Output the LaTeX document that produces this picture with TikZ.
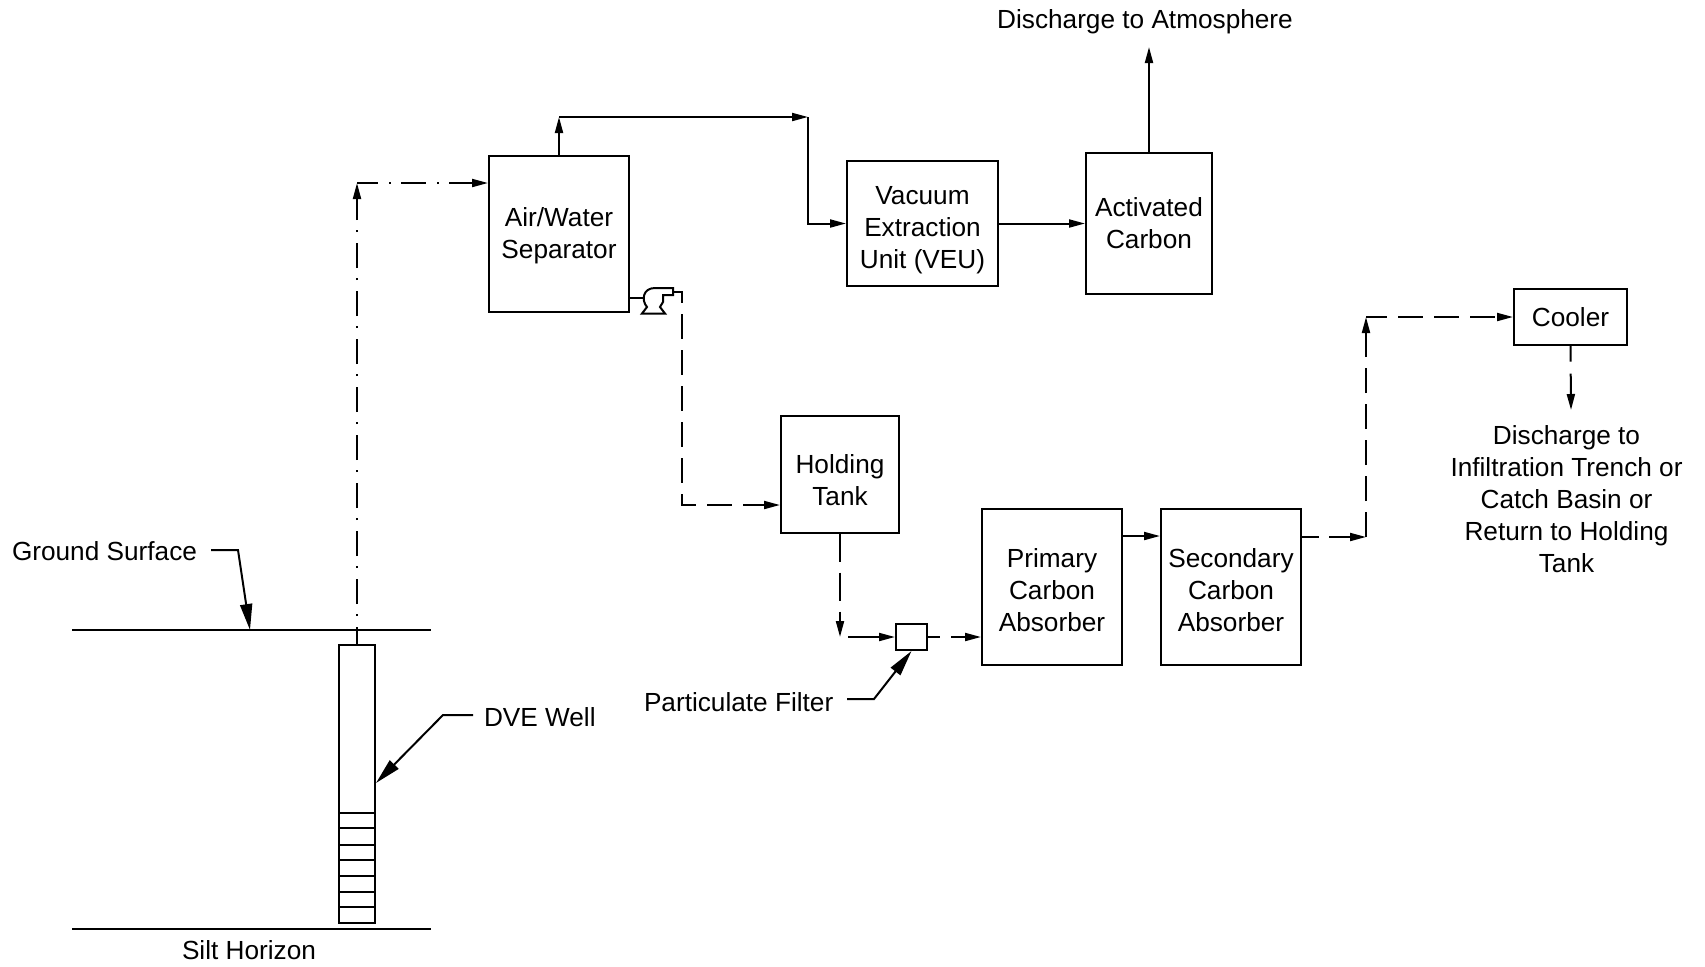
\documentclass[tikz,border=0pt]{standalone}
\usepackage{fontspec}
\setmainfont{Liberation Sans}
\usetikzlibrary{arrows.meta}

\begin{document}
\begin{tikzpicture}[x=0.5pt, y=-0.5pt, line width=1pt,
    >={Stealth[length=8pt, width=4pt, inset=0pt]},
    unit/.style={draw, inner sep=0pt, align=center, font=\fontsize{13.1}{16}\selectfont},
    label/.style={inner sep=0pt, align=center, font=\fontsize{13.1}{16}\selectfont},
    vapor/.style={dash pattern=on 12.5pt off 5.5pt on 1pt off 5pt},
    water/.style={dash pattern=on 12.5pt off 5.5pt},
    leader/.style={-{Stealth[length=13pt, width=6pt, inset=0pt]}}]
    \useasboundingbox (0, 0) rectangle (1705, 966);

    % Process units
    \node[unit, minimum width=70pt, minimum height=78pt, text height=27.6pt] (sep) at (559, 233.5) {Air/Water\\Separator};
    \node[unit, minimum width=75.5pt, minimum height=62.5pt, text height=48pt] (veu) at (922.5, 223.5) {Vacuum\\Extraction\\Unit (VEU)};
    \node[unit, minimum width=63pt, minimum height=70.5pt] (carbon) at (1149, 223.5) {Activated\\Carbon};
    \node[unit, minimum width=59pt, minimum height=58.5pt, text height=32pt] (tank) at (840, 474) {Holding\\Tank};
    \node[unit, minimum width=15.5pt, minimum height=13pt] (filter) at (911.5, 637) {};
    \node[unit, minimum width=70pt, minimum height=78pt, text height=44.7pt] (primary) at (1052, 586.5) {Primary\\Carbon\\Absorber};
    \node[unit, minimum width=70pt, minimum height=78pt, text height=44.7pt] (secondary) at (1231, 586.5) {Secondary\\Carbon\\Absorber};
    \node[unit, minimum width=56.5pt, minimum height=28pt, text height=10.5pt] (cooler) at (1570.5, 316.5) {Cooler};

    % Labels
    \node[label] (atm) at (1145, 22) {Discharge to Atmosphere};
    \node[label] (outfall) at (1566.5, 499) {Discharge to\\Infiltration Trench or\\Catch Basin or\\Return to Holding\\Tank};
    \node[label, anchor=west] (ground) at (11, 551) {Ground Surface};
    \node[label, anchor=west] (dve) at (483, 717) {DVE Well};
    \node[label, anchor=west] (partic) at (643, 702) {Particulate Filter};
    \node[label] (silt) at (249, 950) {Silt Horizon};

    % Ground and silt lines
    \draw (72, 630) -- (431, 630);
    \draw (72, 929) -- (431, 929);

    % Well
    \node[draw, minimum width=18pt, minimum height=139pt] (well) at (357, 784) {};
    \foreach \y in {813, 828, 845, 860, 876, 892, 907}
        \draw[line width=0.8pt] (339, \y) -- (375, \y);

    % Vapor from well
    \coordinate (wellTop) at (357, 183);
    \draw[vapor, dash phase=4pt, ->] (well.north) -- (wellTop);
    \draw[vapor, dash phase=2pt, ->] (wellTop) -- (wellTop -| sep.west);

    % Air line
    \coordinate (airA) at (559, 117);
    \coordinate (airB) at (808, 117);
    \draw[->] (sep.north) -- (airA);
    \draw[->] (airA) -- (airB);
    \draw[->] (airB) |- (veu.west);
    \draw[->] (veu.east) -- (carbon.west);
    \draw[->] (carbon.north) -- (1149, 47);

    % Pump
    \coordinate (pumpIn) at (643, 298);
    \coordinate (pumpOut) at (673, 292);
    \draw (sep.east |- pumpIn) -- (pumpIn);
    \draw (647, 307) .. controls (641, 300) and (643, 288) .. (655, 288)
        -- (673, 288) -- (673, 295) -- (663, 295) -- (663, 302) -- (660, 307)
        -- (665, 313.5) -- (642, 313.5) -- cycle;

    % Water line
    \coordinate (waterA) at (682, 292);
    \coordinate (waterB) at (682, 505);
    \draw[water, dash phase=2.5pt, ->] (pumpOut) -- (waterA) -- (waterB) -- (waterB -| tank.west);
    \coordinate (waterC) at (840, 637);
    \coordinate (waterD) at (848, 637);
    \draw[dash pattern=on 14pt off 5.5pt, ->] (tank.south) -- (waterC);
    \draw[->] (waterD) -- (filter.west);
    \draw[water, dash phase=6.5pt, ->] (filter.east) -- (filter.east -| primary.west);
    \draw[->] (primary.east |- 0, 536) -- (secondary.west |- 0, 536);

    % Treated water to cooler
    \coordinate (waterE) at (1366, 537);
    \coordinate (waterF) at (1366, 317);
    \draw[dash pattern=on 8.5pt off 5pt on 18pt off 0pt, ->] (secondary.east |- waterE) -- (waterE);
    \draw[water, ->] (waterE) -- (waterF);
    \draw[water, dash phase=2pt, ->] (waterF) -- (waterF -| cooler.west);
    \coordinate (coolerOut) at (1571, 410);
    \draw[dash pattern=on 8pt off 6pt on 18pt off 0pt, ->] (cooler.south) -- (coolerOut);

    % Leaders
    \coordinate (groundBend) at (238, 550);
    \coordinate (groundTip) at (250, 630);
    \draw[leader] (211, 550) -- (groundBend) -- (groundTip);
    \coordinate (dveBend) at (443, 715);
    \coordinate (dveTip) at (376, 783);
    \draw[leader] (473, 715) -- (dveBend) -- (dveTip);
    \coordinate (particBend) at (874, 699);
    \draw[leader] (847, 699) -- (particBend) -- (filter.south);
\end{tikzpicture}
\end{document}
